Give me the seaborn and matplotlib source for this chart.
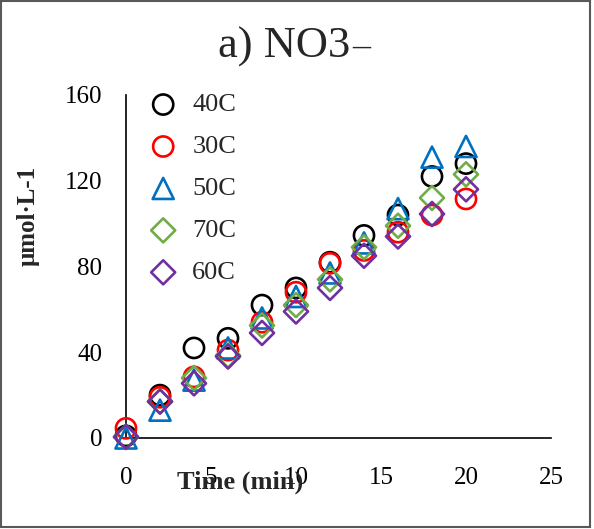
import matplotlib
matplotlib.use("Agg")
import matplotlib.pyplot as plt
import seaborn as sns
import pandas as pd
from matplotlib.patches import Rectangle

sns.set_theme(style="white")
plt.rcParams['font.family'] = ['Liberation Serif', 'DejaVu Serif']

time_min = [0, 2, 4, 6, 8, 10, 12, 14, 16, 18, 20]
series_names = ["40C", "30C", "50C", "70C", "60C"]
c40 = [1, 20, 42, 46.5, 62, 70, 82, 94.5, 104, 122, 128]
c30 = [4.5, 19, 28.5, 41, 54, 68, 81.5, 87.5, 96, 104, 111.5]
c50 = [0, 13, 27, 42, 56, 66, 77, 91, 107, 131, 136]
c70 = [0.5, 17, 28, 38.5, 52.5, 62, 74, 89, 99, 112, 123]
c60 = [0.5, 17, 25.5, 38, 49, 59, 70, 85, 94, 104.5, 116]
x_ticks = [0, 5, 10, 15, 20, 25]
y_ticks = [0, 40, 80, 120, 160]

values = [c40, c30, c50, c70, c60]
colors = ["#000000", "#FF0000", "#0070C0", "#70AD47", "#7030A0"]
markers = ["o", "o", "^", "D", "D"]
sizes = [210, 210, 230, 150, 150]

fig = plt.figure(figsize=(5.94, 5.29), dpi=100)
W, H = 594, 529
ax = fig.add_axes([126 / W, 1 - 438 / H, (551 - 126) / W, (438 - 95) / H])

for name, vals, col, mk, sz in zip(series_names, values, colors, markers, sizes):
    df = pd.DataFrame({"t": time_min, "v": vals})
    sns.scatterplot(data=df, x="t", y="v", ax=ax, marker=mk, s=sz,
                    facecolor="none", edgecolor=col, linewidth=1.9,
                    label=name, clip_on=False, zorder=3)

ax.set_xlim(0, 25)
ax.set_ylim(0, 160)
ax.set_xticks(x_ticks)
ax.set_yticks(y_ticks)
ax.tick_params(axis="both", length=0, labelsize=18, colors="black")
ax.tick_params(axis="x", pad=21)
ax.tick_params(axis="y", pad=17)
for s in ["top", "right"]:
    ax.spines[s].set_visible(False)
for s in ["left", "bottom"]:
    ax.spines[s].set_color("black")
    ax.spines[s].set_linewidth(1.2)
ax.grid(False)

ax.set_xlabel("Time (min)", fontsize=19, fontweight="bold")
ax.xaxis.set_label_coords((240 - 126) / 425, (438 - 482) / 343)
ax.xaxis.label.set_verticalalignment("center")
ax.set_ylabel("μmol·L-1", fontsize=18, fontweight="bold")
ax.yaxis.set_label_coords((28 - 126) / 425, (438 - 216) / 343)
ax.yaxis.label.set_verticalalignment("center")

leg = ax.legend(loc="upper left", bbox_to_anchor=((150 - 126) / 425, (438 - 93) / 343),
                frameon=False, fontsize=19, handlelength=1.0, handletextpad=0.6,
                labelspacing=0.70, borderpad=0, borderaxespad=0)

fig.text(218 / W, 1 - 58 / H, "a) NO3", fontsize=32, ha="left", va="baseline")
fig.text(352 / W, 1 - 47 / H, "–", fontsize=26, ha="left", va="center")

fig.patches.append(Rectangle((1 / W, 2 / H), (590 - 1) / W, (527 - 1) / H,
                             transform=fig.transFigure, fill=False,
                             edgecolor="#595959", linewidth=1.5))

fig.savefig("out.png", dpi=100)
